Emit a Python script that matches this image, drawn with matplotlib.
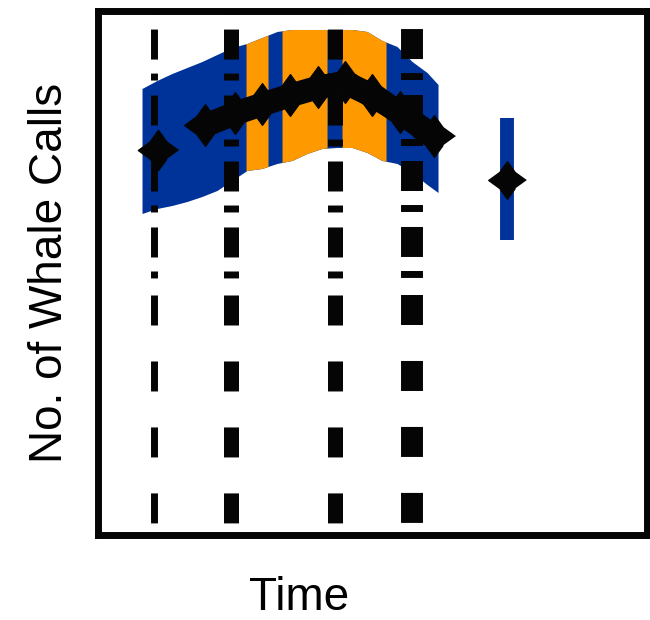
#!/usr/bin/env python3
# whale calls over time - band, trend and event lines

import numpy as np
import matplotlib
matplotlib.use('Agg')
from matplotlib import pyplot as plt

plt.rcParams['font.family'] = ['Liberation Sans', 'DejaVu Sans']
plt.rcParams['lines.scale_dashes'] = False

BLUE = '#003399'
ORANGE = '#FF9900'
BLACK = '#050505'

# confidence band
band_x = [4.4, 5.9, 7.4, 8.9, 10.4, 11.9, 13.4, 14.9, 16.4, 17.9, 19.4,
          20.9, 22.4, 23.9, 25.4, 26.9, 28.4, 29.9, 31.4, 32.9, 34.0]
band_hi = [44.6, 45.4, 46.1, 46.7, 47.3, 48.0, 48.7, 49.1, 49.7, 50.3, 50.5,
           50.5, 50.5, 50.5, 50.5, 50.3, 49.4, 48.8, 47.3, 46.2, 45.0]
band_lo = [32.1, 32.6, 32.9, 33.3, 33.8, 34.4, 35.4, 36.4, 36.6, 37.1, 37.4,
           38.1, 38.6, 38.7, 38.7, 38.2, 37.4, 37.1, 36.2, 35.0, 34.2]
# highlighted part of the band
orange_spans = [(14.8, 17.0), (18.4, 22.9), (24.4, 28.8)]

# trend
trend_x = [10.7, 13.7, 16.4, 19.2, 22.0, 24.7, 27.4, 30.2, 33.6]
trend_y = [40.9, 42.1, 43.0, 43.9, 44.7, 45.2, 43.9, 42.2, 39.8]
first_x, first_y = 6.0, 38.4
late_x, late_y = 40.9, 35.4
late_lo, late_hi = 29.4, 41.6

# event lines
event_x = [5.55, 13.25, 23.65, 31.4]
event_lw = [5, 10.8, 10.8, 15.8]

STAR = [(1, 0), (0.42, 0.42), (0, 1), (-0.42, 0.42),
        (-1, 0), (-0.42, -0.42), (0, -1), (0.42, -0.42)]

fig = plt.figure(figsize=(6.5, 6.2), dpi=100)
ax = fig.add_axes([0.1508, 0.1379, 0.8446, 0.8444])
ax.set_xlim(0, 54.9)
ax.set_ylim(0, 52.35)

ax.fill_between(band_x, band_lo, band_hi, color=BLUE, lw=0, zorder=1)
for a, b in orange_spans:
    xs = np.linspace(a, b, 30)
    ax.fill_between(xs, np.interp(xs, band_x, band_lo),
                    np.interp(xs, band_x, band_hi),
                    color=ORANGE, lw=0, zorder=2)

y_split = 24.9
for x, w in zip(event_x, event_lw):
    ax.plot([x, x], [52.35, y_split], color=BLACK, lw=w,
            linestyle=(34.5, (21.6, 10.1, 5, 10.8)), zorder=3)
    ax.plot([x, x], [y_split, 1.2], color=BLACK, lw=w,
            linestyle=(40.3, (21.6, 25.9)), zorder=3)

ax.plot(trend_x, trend_y, color=BLACK, lw=17, solid_capstyle='butt',
        solid_joinstyle='round', zorder=5)
ax.plot(trend_x, trend_y, ls='none', marker=STAR, ms=30, color=BLACK, zorder=6)
ax.plot([first_x], [first_y], ls='none', marker=STAR, ms=29, color=BLACK, zorder=6)

ax.plot([late_x, late_x], [late_lo, late_hi], color=BLUE, lw=10,
        solid_capstyle='butt', zorder=4)
ax.plot([late_x], [late_y], ls='none', marker=STAR, ms=27, color=BLACK, zorder=6)

for s in ax.spines.values():
    s.set_linewidth(5)
    s.set_color(BLACK)
ax.set_xticks([])
ax.set_yticks([])

ax.set_xlabel('Time', fontsize=33)
ax.xaxis.set_label_coords(0.366, -0.079)
ax.set_ylabel('No. of Whale Calls', fontsize=33)
ax.yaxis.set_label_coords(-0.047, 0.5)

fig.savefig('out.png', dpi=100)
